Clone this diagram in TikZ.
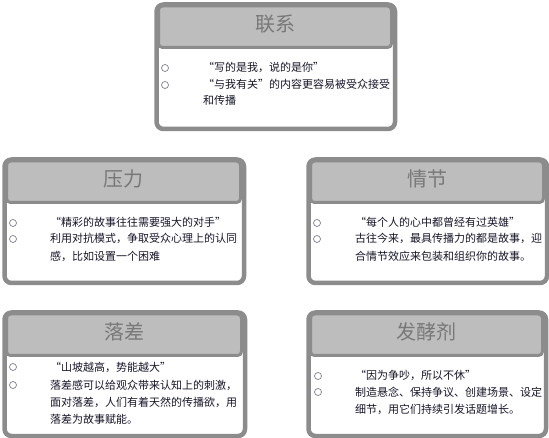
\documentclass[tikz,border=0pt]{standalone}
\usepackage{fontspec}
\setmainfont{Noto Sans CJK SC}
\usepackage{xcolor}
\usetikzlibrary{positioning}

\definecolor{panelgray}{HTML}{8C8C8C}
\definecolor{headgray}{HTML}{BDBDBD}
\definecolor{titlegray}{HTML}{787878}
\definecolor{bulletgray}{HTML}{80808F}
\definecolor{textink}{HTML}{16162A}

\begin{document}
\begin{tikzpicture}[
  x=1pt, y=-1pt,
  panel/.style={rectangle, draw=panelgray, line width=4.5pt, rounded corners=7pt,
                fill=white, anchor=north west, inner sep=0pt},
  header/.style={rectangle, draw=panelgray, line width=3pt, rounded corners=4pt,
                 fill=headgray, anchor=north west, inner sep=0pt, minimum height=41.5pt,
                 text=titlegray, font=\fontsize{20}{24}\selectfont,
                 text height=17.6pt, text depth=8.4pt},
  bullet/.style={circle, draw=bulletgray, line width=0.7pt, minimum size=7pt, inner sep=0pt},
  item/.style={anchor=base west, inner sep=0pt, text=textink, font=\fontsize{11}{16}\selectfont},
]
  \useasboundingbox (0,0) rectangle (549,438);

  % ===== 联系 =====
  \node[panel, minimum width=238.5pt, minimum height=124.5pt] (lianxi) at (154.25,2.25) {};
  \node[header, minimum width=233pt] (lianxi-h) at (157,4.5) {联系};
  \node[bullet] (lianxi-b1) at (165,68) {};
  \node[bullet] (lianxi-b2) at (165,85) {};
  \node[item] (lianxi-t1) at (203,72) {“写的是我，说的是你”};
  \node[item] (lianxi-t2) at (203,89) {“与我有关”的内容更容易被受众接受};
  \node[item] (lianxi-t3) at (203,105) {和传播};

  % ===== 压力 =====
  \node[panel, minimum width=239.5pt, minimum height=123.5pt] (yali) at (2.25,157.25) {};
  \node[header, minimum width=234pt] (yali-h) at (5,159.5) {压力};
  \node[bullet] (yali-b1) at (13,223) {};
  \node[bullet] (yali-b2) at (13,239) {};
  \node[item] (yali-t1) at (50,227) {“精彩的故事往往需要强大的对手”};
  \node[item] (yali-t2) at (50,243) {利用对抗模式，争取受众心理上的认同};
  \node[item] (yali-t3) at (50,261) {感，比如设置一个困难};

  % ===== 情节 =====
  \node[panel, minimum width=238.5pt, minimum height=123.5pt] (qingjie) at (306.25,157.25) {};
  \node[header, minimum width=233pt] (qingjie-h) at (309,159.5) {情节};
  \node[bullet] (qingjie-b1) at (317,223) {};
  \node[bullet] (qingjie-b2) at (317,239) {};
  \node[item] (qingjie-t1) at (355,227) {“每个人的心中都曾经有过英雄”};
  \node[item] (qingjie-t2) at (355,243) {古往今来，最具传播力的都是故事，迎};
  \node[item] (qingjie-t3) at (355,261) {合情节效应来包装和组织你的故事。};

  % ===== 落差 =====
  \node[panel, minimum width=240.5pt, minimum height=123.5pt] (luocha) at (2.25,310.25) {};
  \node[header, minimum width=235pt] (luocha-h) at (5,312.5) {落差};
  \node[bullet] (luocha-b1) at (13,367) {};
  \node[bullet] (luocha-b2) at (13,385) {};
  \node[item] (luocha-t1) at (50,371) {“山坡越高，势能越大”};
  \node[item] (luocha-t2) at (50,389) {落差感可以给观众带来认知上的刺激，};
  \node[item] (luocha-t3) at (50,406) {面对落差，人们有着天然的传播欲，用};
  \node[item] (luocha-t4) at (50,423) {落差为故事赋能。};

  % ===== 发酵剂 =====
  \node[panel, minimum width=237.5pt, minimum height=123.5pt] (fajiao) at (306.25,310.25) {};
  \node[header, minimum width=232pt] (fajiao-h) at (309,312.5) {发酵剂};
  \node[bullet] (fajiao-b1) at (318,376) {};
  \node[bullet] (fajiao-b2) at (318,392) {};
  \node[item] (fajiao-t1) at (355,380) {“因为争吵，所以不休”};
  \node[item] (fajiao-t2) at (355,396) {制造悬念、保持争议、创建场景、设定};
  \node[item] (fajiao-t3) at (355,413) {细节，用它们持续引发话题增长。};

\end{tikzpicture}
\end{document}
